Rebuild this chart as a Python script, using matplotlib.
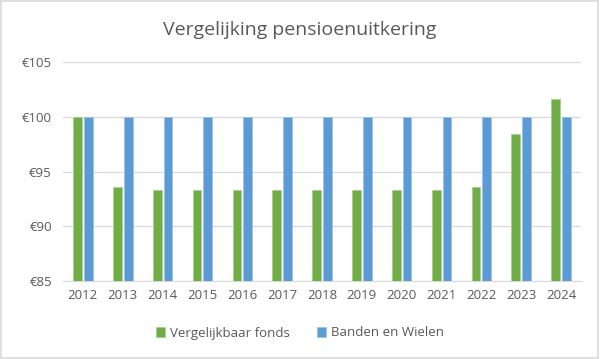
import numpy as np
import matplotlib.pyplot as plt
from matplotlib.patches import Rectangle

years = ['2012', '2013', '2014', '2015', '2016', '2017', '2018',
         '2019', '2020', '2021', '2022', '2023', '2024']
vergelijkbaar = [100.0, 93.6, 93.3, 93.3, 93.3, 93.3, 93.3,
                 93.3, 93.3, 93.3, 93.6, 98.4, 101.6]
banden = [100.0] * 13
series_names = ['Vergelijkbaar fonds', 'Banden en Wielen']

plt.rcParams['font.family'] = ['Open Sans', 'DejaVu Sans']
txt = '#595959'

fig = plt.figure(figsize=(6.0, 3.59), dpi=100)
ax = fig.add_axes([63 / 600, 1 - 281 / 359, 518 / 600, (281 - 62.3) / 359])

x = np.arange(len(years))
w = 0.22
ax.bar(x - 0.135, np.array(vergelijkbaar) - 85, w, bottom=85, color='#70AD47',
       edgecolor='#a9d18e', linewidth=0.6, label=series_names[0], zorder=3)
ax.bar(x + 0.135, np.array(banden) - 85, w, bottom=85, color='#5B9BD5',
       edgecolor='#9dc3e6', linewidth=0.6, label=series_names[1], zorder=3)

ax.set_xlim(-0.5, len(years) - 0.5)
ax.set_ylim(85, 105)
ax.set_yticks([85, 90, 95, 100, 105])
ax.set_yticklabels(['€85', '€90', '€95', '€100', '€105'])
ax.set_xticks(x)
ax.set_xticklabels(years)
ax.tick_params(axis='both', length=0, colors=txt, labelsize=9.5)
ax.tick_params(axis='y', pad=8)
ax.tick_params(axis='x', pad=6)
ax.grid(axis='y', color='#d9d9d9', linewidth=0.9, zorder=0)
for s in ['top', 'right', 'left']:
    ax.spines[s].set_visible(False)
ax.spines['bottom'].set_color('#d9d9d9')

fig.text(0.5, 1 - 30 / 359, 'Vergelijking pensioenuitkering', ha='center',
         va='center', fontsize=14, color=txt)

fig.legend(loc='center', bbox_to_anchor=(0.5, 1 - 333 / 359), ncol=2,
           frameon=False, fontsize=9.5, labelcolor=txt, handlelength=0.7,
           handleheight=0.7, columnspacing=2.0, handletextpad=0.4)

fig.add_artist(Rectangle((0.002, 0.003), 0.995, 0.994, transform=fig.transFigure,
                         fill=False, edgecolor='#d9d9d9', linewidth=1.2))

fig.savefig('out.png', dpi=100)
